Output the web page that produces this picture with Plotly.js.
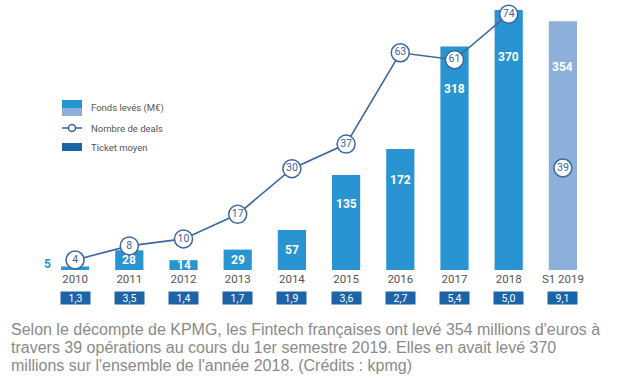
<!DOCTYPE html>
<html>
<head>
<meta charset="utf-8">
<script src="https://cdn.plot.ly/plotly-3.0.1.min.js"></script>
<style>html,body{margin:0;padding:0;background:#fff;}#chart{width:620px;height:388px;}</style>
</head>
<body>
<div id="chart"></div>
<script>
const years = ['2010','2011','2012','2013','2014','2015','2016','2017','2018','S1 2019'];
const fonds = [5, 28, 14, 29, 57, 135, 172, 318, 370, 354];
const deals = [4, 8, 10, 17, 30, 37, 63, 61, 74, 39];
const ticket = [1.3, 3.5, 1.4, 1.7, 1.9, 3.6, 2.7, 5.4, 5.0, 9.1];
const legendLabels = ['Fonds levés (M€)', 'Nombre de deals', 'Ticket moyen'];
const captionLines = [
  "Selon le décompte de KPMG, les Fintech françaises ont levé 354 millions d'euros à",
  "travers 39 opérations au cours du 1er semestre 2019. Elles en avait levé 370",
  "millions sur l'ensemble de l'année 2018. (Crédits : kpmg)"
];

const BLUE = '#2894d2', LIGHT = '#8db0da', DARK = '#1d63a8', LINE = '#3d679e';
const W = 620, H = 388, M = {l: 48, r: 30, t: 5, b: 118};
const plotH = H - M.t - M.b, plotW = W - M.l - M.r;
const yMax = 377, pxPerUnit = plotH / yMax;
const FONT = 'Roboto, "Liberation Sans", Arial, sans-serif';
const PX = px => (px - M.l) / plotW;          // pixel -> paper x
const PY = py => (H - M.b - py) / plotH;      // pixel -> paper y

const idx = years.map((_, i) => i);
const nFull = 9;
const traces = [
  {type: 'bar', name: legendLabels[0], x: idx, y: fonds,
   marker: {color: idx.map(i => i < nFull ? BLUE : LIGHT)}},
  {type: 'scatter', name: legendLabels[1], x: idx.slice(0, nFull), y: deals.slice(0, nFull), yaxis: 'y2',
   mode: 'lines+markers+text', text: deals.slice(0, nFull).map(String), textposition: 'middle center',
   textfont: {family: FONT, size: 10.5, color: LINE},
   line: {color: LINE, width: 1.6},
   marker: {size: 18, color: '#fff', line: {color: LINE, width: 1.5}}, cliponaxis: false},
  {type: 'scatter', x: [idx[9]], y: [fonds[9] * 0.41],
   mode: 'markers+text', text: [String(deals[9])], textposition: 'middle center',
   textfont: {family: FONT, size: 10.5, color: LINE},
   marker: {size: 18, color: '#fff', line: {color: LINE, width: 1.5}}}
];

const annotations = [];
fonds.forEach((v, i) => {
  const hpx = v * pxPerUnit;
  if (v < 10) {
    annotations.push({x: i, y: v, xref: 'x', yref: 'y', text: '<b>' + v + '</b>', showarrow: false,
      xanchor: 'right', yanchor: 'middle', xshift: -22, yshift: 2, font: {family: FONT, size: 12, color: BLUE}});
  } else {
    const shift = Math.min(hpx / 2, 0.11 * hpx + 18);
    annotations.push({x: i, y: v, xref: 'x', yref: 'y', text: '<b>' + v + '</b>', showarrow: false,
      xanchor: 'center', yanchor: 'middle', yshift: -shift, font: {family: FONT, size: 12, color: '#fff'}});
  }
});
ticket.forEach((t, i) => {
  annotations.push({x: i, xref: 'x', y: PY(298), yref: 'paper', yanchor: 'middle',
    text: t.toFixed(1).replace('.', ','), showarrow: false, bgcolor: DARK, width: 29, height: 12, borderpad: 0,
    font: {family: FONT, size: 10.5, color: '#fff'}});
});
captionLines.forEach((line, k) => {
  annotations.push({xref: 'paper', yref: 'paper', x: PX(9), y: PY(329 + 18 * k),
    xanchor: 'left', yanchor: 'middle', align: 'left', showarrow: false, text: line,
    font: {family: '"Liberation Sans", Arial, sans-serif', size: 16, color: '#8a8a8a'}});
});
// legend (drawn by hand to match the swatches)
const legY = [108, 128, 147];
legendLabels.forEach((lab, k) => {
  annotations.push({xref: 'paper', yref: 'paper', x: PX(89), y: PY(legY[k]), xanchor: 'left', yanchor: 'middle',
    showarrow: false, text: lab, font: {family: FONT, size: 9.5, color: '#555'}});
});
const shapes = [
  {type: 'rect', xref: 'paper', yref: 'paper', x0: PX(62), x1: PX(82), y0: PY(100), y1: PY(108), fillcolor: BLUE, line: {width: 0}},
  {type: 'rect', xref: 'paper', yref: 'paper', x0: PX(62), x1: PX(82), y0: PY(108), y1: PY(116), fillcolor: LIGHT, line: {width: 0}},
  {type: 'line', xref: 'paper', yref: 'paper', x0: PX(62), x1: PX(82), y0: PY(128), y1: PY(128), line: {color: LINE, width: 1.6}},
  {type: 'circle', xref: 'paper', yref: 'paper', x0: PX(68.5), x1: PX(75.5), y0: PY(124.5), y1: PY(131.5), fillcolor: '#fff', line: {color: LINE, width: 1.5}},
  {type: 'rect', xref: 'paper', yref: 'paper', x0: PX(62), x1: PX(82), y0: PY(143), y1: PY(151), fillcolor: DARK, line: {width: 0}}
];

const layout = {
  width: W, height: H, margin: M, paper_bgcolor: '#fff', plot_bgcolor: '#fff',
  barmode: 'overlay', bargap: 0.48, showlegend: false,
  font: {family: FONT, color: '#555'},
  xaxis: {range: [-0.5, 9.5], tickvals: idx, ticktext: years, showgrid: false, zeroline: false, showline: false, ticks: '',
    tickfont: {family: FONT, size: 11.5, color: '#555'}},
  yaxis: {range: [0, yMax], visible: false},
  yaxis2: {range: [1.14, 76.6], overlaying: 'y', visible: false},
  annotations: annotations, shapes: shapes
};
Plotly.newPlot('chart', traces, layout, {displayModeBar: false, staticPlot: true});
</script>
</body>
</html>
